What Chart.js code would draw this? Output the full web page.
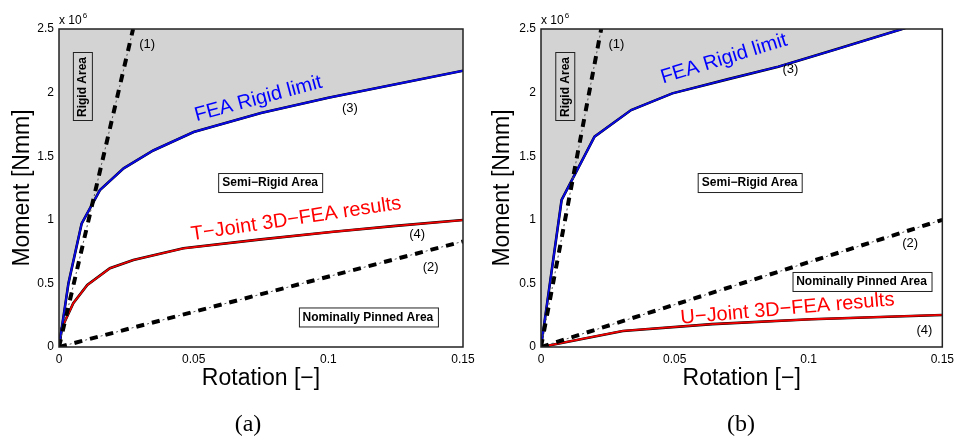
<!DOCTYPE html>
<html>
<head>
<meta charset="utf-8">
<script src="https://cdn.jsdelivr.net/npm/chart.js@4.4.0/dist/chart.umd.min.js"></script>
<style>
  body { margin: 0; background: #fff; }
  #wrap { position: relative; width: 959px; height: 442px; }
  .panel { position: absolute; top: 0; height: 442px; }
  .cap { position: absolute; top: 409px; width: 60px; text-align: center;
         font: 24px "Liberation Serif", serif; line-height: 28px; color: #000; }
</style>
</head>
<body>
<div id="wrap">
  <div class="panel" style="left:0;width:480px"><canvas id="chartA"></canvas></div>
  <div class="panel" style="left:480px;width:479px"><canvas id="chartB"></canvas></div>
  <div class="cap" style="left:218px">(a)</div>
  <div class="cap" style="left:711px">(b)</div>
</div>
<script>
// moment values are in units of 10^6 Nmm (axis shows "x 10^6")
const rotTicks = [0, 0.05, 0.1, 0.15];
const momTicks = [0, 0.5, 1, 1.5, 2, 2.5];

// (a) T-joint
const rigidA_rot = [0, 0.0035, 0.0084, 0.0152, 0.024, 0.035, 0.05, 0.075, 0.1, 0.125, 0.15];
const rigidA_mom = [0, 0.50, 0.97, 1.234, 1.405, 1.545, 1.69, 1.84, 1.96, 2.066, 2.172];
const tjoint_rot = [0, 0.001, 0.0053, 0.0105, 0.0189, 0.0276, 0.0462, 0.075, 0.1019, 0.125, 0.15];
const tjoint_mom = [0, 0.147, 0.344, 0.487, 0.619, 0.684, 0.776, 0.846, 0.906, 0.952, 0.998];
const line1A_rot = [0, 0.0275];
const line1A_mom = [0, 2.5];
const line2A_rot = [0, 0.15];
const line2A_mom = [0, 0.83];

// (b) U-joint
const rigidB_rot = [0, 0.0077, 0.02, 0.0337, 0.0491, 0.07, 0.0887, 0.11, 0.135, 0.15];
const rigidB_mom = [0, 1.156, 1.653, 1.863, 1.994, 2.106, 2.204, 2.338, 2.5, 2.6];
const ujoint_rot = [0, 0.0306, 0.064, 0.101, 0.15];
const ujoint_mom = [0, 0.126, 0.18, 0.218, 0.252];
const line1B_rot = [0, 0.0225];
const line1B_mom = [0, 2.5];
const line2B_rot = [0, 0.15];
const line2B_mom = [0, 1.0];

const FONT = '"Liberation Sans", Arial, sans-serif';

function pts(xs, ys) {
  return xs.map((x, i) => ({ x: x, y: ys[i] }));
}

function drawNote(ctx, xs, ys, n) {
  const px = xs.getPixelForValue(n.rot), py = ys.getPixelForValue(n.mom);
  ctx.save();
  ctx.translate(px, py);
  ctx.rotate((n.angle || 0) * Math.PI / 180);
  ctx.font = n.font;
  ctx.fillStyle = n.color || '#000';
  ctx.textAlign = 'center';
  ctx.textBaseline = 'middle';
  if (n.box) {
    const w = ctx.measureText(n.text).width + 8, h = 19;
    ctx.strokeStyle = '#222';
    ctx.lineWidth = 1;
    ctx.strokeRect(Math.round(-w / 2) + 0.5, Math.round(-h / 2) + 0.5, Math.round(w), h);
  }
  ctx.fillText(n.text, 0, 1);
  ctx.restore();
}

function makeDecor(notes) {
  return {
    id: 'decor',
    afterDatasetsDraw(chart) {
      const { ctx, chartArea: a, scales } = chart;
      ctx.save();
      ctx.strokeStyle = '#222';
      ctx.lineWidth = 1.5;
      ctx.strokeRect(a.left, a.top, a.right - a.left, a.bottom - a.top);
      ctx.fillStyle = '#000';
      ctx.textAlign = 'left';
      ctx.textBaseline = 'alphabetic';
      ctx.font = '12px ' + FONT;
      ctx.fillText('x 10', a.left, a.top - 5);
      const w = ctx.measureText('x 10').width;
      ctx.font = '8px ' + FONT;
      ctx.fillText('6', a.left + w + 1, a.top - 11);
      notes.forEach(n => drawNote(ctx, scales.x, scales.y, n));
      ctx.restore();
    }
  };
}

const BOLD = 'bold 12px ' + FONT;
const BIG = '20px ' + FONT;
const SMALL = '13px ' + FONT;

function makeChart(id, d) {
  const thick = (data) => ({ data, borderColor: '#000', borderWidth: 4, borderDash: [8, 8], borderCapStyle: 'butt' });
  const thin = (data) => ({ data, borderColor: '#555', borderWidth: 1, borderDash: [8, 3, 2, 3] });
  return new Chart(document.getElementById(id), {
    type: 'line',
    data: {
      datasets: [
        thick(pts(d.l1x, d.l1y)),
        thin(pts(d.l1x, d.l1y)),
        thick(pts(d.l2x, d.l2y)),
        thin(pts(d.l2x, d.l2y)),
        { data: pts(d.rx, d.ry), borderColor: '#0808e0', borderWidth: 2 },
        { data: pts(d.rx, d.ry), borderColor: '#000', borderWidth: 2.6,
          fill: 'end', backgroundColor: 'rgb(211,211,211)' },
        { data: pts(d.jx, d.jy), borderColor: '#f00000', borderWidth: 1.8 },
        { data: pts(d.jx, d.jy), borderColor: '#000', borderWidth: 2.6 }
      ]
    },
    options: {
      responsive: true,
      maintainAspectRatio: false,
      animation: false,
      layout: { padding: { top: 29, right: d.padRight, bottom: 50, left: 0 } },
      elements: { point: { radius: 0 }, line: { tension: 0 } },
      plugins: {
        legend: { display: false },
        tooltip: { enabled: false },
        filler: { drawTime: 'beforeDatasetsDraw' }
      },
      scales: {
        x: {
          type: 'linear', min: 0, max: 0.15,
          grid: { display: false, drawTicks: false }, border: { display: false },
          afterBuildTicks: s => { s.ticks = rotTicks.map(v => ({ value: v })); },
          ticks: { padding: 5, color: '#000', maxRotation: 0, font: { size: 12, family: FONT },
                   callback: v => String(+v.toFixed(2)) },
          title: { display: true, text: 'Rotation [−]', color: '#000',
                   font: { size: 23, family: FONT }, padding: 0 },
          afterFit: s => { s.height = 45; }
        },
        y: {
          type: 'linear', min: 0, max: 2.5,
          grid: { display: false, drawTicks: false }, border: { display: false },
          afterBuildTicks: s => { s.ticks = momTicks.map(v => ({ value: v })); },
          ticks: { padding: 5, color: '#000', font: { size: 12, family: FONT },
                   callback: v => String(+v.toFixed(2)) },
          title: { display: true, text: 'Moment [Nmm]', color: '#000',
                   font: { size: 23, family: FONT }, padding: { top: 9, bottom: 0 } },
          afterFit: s => { s.width = d.yWidth; }
        }
      }
    },
    plugins: [makeDecor(d.notes)]
  });
}

makeChart('chartA', {
  padRight: 17, yWidth: 59,
  l1x: line1A_rot, l1y: line1A_mom, l2x: line2A_rot, l2y: line2A_mom,
  rx: rigidA_rot, ry: rigidA_mom, jx: tjoint_rot, jy: tjoint_mom,
  notes: [
    { text: '(1)', rot: 0.0327, mom: 2.39, font: SMALL },
    { text: 'Rigid Area', rot: 0.0085, mom: 2.044, font: BOLD, box: true, angle: -90 },
    { text: 'FEA Rigid limit', rot: 0.0739, mom: 1.958, font: BIG, color: '#0000ff', angle: -15 },
    { text: '(3)', rot: 0.108, mom: 1.887, font: SMALL },
    { text: 'Semi−Rigid Area', rot: 0.0784, mom: 1.297, font: BOLD, box: true },
    { text: 'T−Joint 3D−FEA results', rot: 0.088, mom: 1.014, font: BIG, color: '#ff0000', angle: -8.5 },
    { text: '(4)', rot: 0.133, mom: 0.896, font: SMALL },
    { text: '(2)', rot: 0.138, mom: 0.637, font: SMALL },
    { text: 'Nominally Pinned Area', rot: 0.1147, mom: 0.24, font: BOLD, box: true }
  ]
});

makeChart('chartB', {
  padRight: 14, yWidth: 61,
  l1x: line1B_rot, l1y: line1B_mom, l2x: line2B_rot, l2y: line2B_mom,
  rx: rigidB_rot, ry: rigidB_mom, jx: ujoint_rot, jy: ujoint_mom,
  notes: [
    { text: '(1)', rot: 0.0282, mom: 2.39, font: SMALL },
    { text: 'Rigid Area', rot: 0.0087, mom: 2.044, font: BOLD, box: true, angle: -90 },
    { text: 'FEA Rigid limit', rot: 0.0683, mom: 2.272, font: BIG, color: '#0000ff', angle: -17 },
    { text: '(3)', rot: 0.0932, mom: 2.193, font: SMALL },
    { text: 'Semi−Rigid Area', rot: 0.078, mom: 1.297, font: BOLD, box: true },
    { text: '(2)', rot: 0.138, mom: 0.825, font: SMALL },
    { text: 'Nominally Pinned Area', rot: 0.1198, mom: 0.519, font: BOLD, box: true },
    { text: 'U−Joint 3D−FEA results', rot: 0.0921, mom: 0.307, font: BIG, color: '#ff0000', angle: -5 },
    { text: '(4)', rot: 0.1433, mom: 0.142, font: SMALL }
  ]
});
</script>
</body>
</html>
